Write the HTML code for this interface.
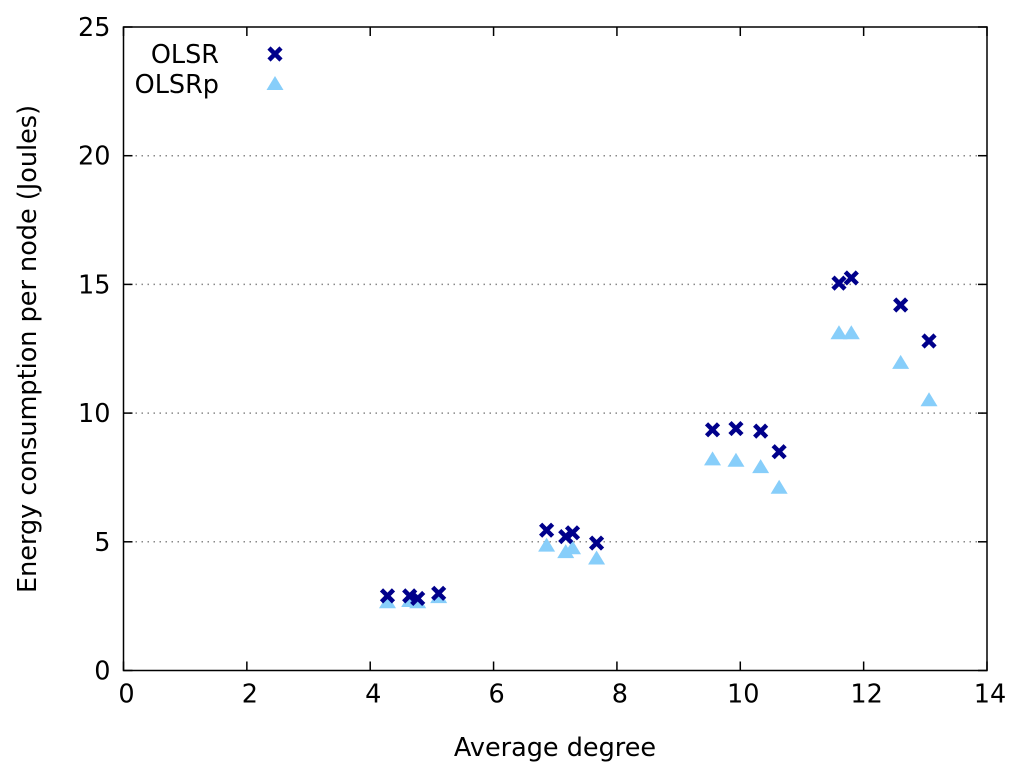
<!DOCTYPE html>
<html><head><meta charset="utf-8"><style>
html,body{margin:0;padding:0;background:#fff;}
svg{display:block;font-family:"DejaVu Sans","Liberation Sans",sans-serif;}
</style></head><body>
<svg id="chart" width="1024" height="778" viewBox="0 0 1024 778" xmlns="http://www.w3.org/2000/svg">
<g id="grid"></g><g id="axes"></g><g id="marks"></g><g id="legend"></g>
</svg>
<script>
const xTicks=[0,2,4,6,8,10,12,14];
const yTicks=[0,5,10,15,20,25];
const olsrX=[4.28,4.64,4.77,5.11,6.86,7.17,7.28,7.67,9.55,9.93,10.33,10.63,11.6,11.8,12.6,13.06];
const olsrY=[2.9,2.9,2.8,3.0,5.45,5.2,5.35,4.95,9.35,9.4,9.3,8.5,15.05,15.25,14.2,12.8];
const olsrpX=[4.28,4.64,4.77,5.11,6.86,7.17,7.28,7.67,9.55,9.93,10.33,10.63,11.6,11.8,12.6,13.06];
const olsrpY=[2.65,2.7,2.65,2.85,4.85,4.6,4.75,4.35,8.2,8.15,7.9,7.1,13.1,13.1,11.95,10.5];

const L=123.5,R=987,T=27,B=670.5;
const FS=25.5;
const xs=v=>L+(v-0)/14*(R-L);
const ys=v=>B-(v-0)/25*(B-T);
const NS="http://www.w3.org/2000/svg";
function mk(tag,attrs,parent){const e=document.createElementNS(NS,tag);for(const k in attrs)e.setAttribute(k,attrs[k]);parent.appendChild(e);return e;}
const grid=document.getElementById('grid'),axes=document.getElementById('axes'),marks=document.getElementById('marks'),legend=document.getElementById('legend');

yTicks.forEach(v=>{
  const y=ys(v);
  if(v>0&&v<25){const g=mk('line',{x1:L,x2:R,y1:y,y2:y,stroke:'#888','stroke-width':1.5,'stroke-dasharray':'1.5,4.5'},grid);
  
  }
  const t1=mk('line',{x1:L,x2:L+9,y1:y,y2:y,stroke:'#000','stroke-width':1.5},axes);
  
  
  const t2=mk('line',{x1:R-9,x2:R,y1:y,y2:y,stroke:'#000','stroke-width':1.5},axes);
  
  
  const lb=mk('text',{x:L-13,y:y+9,'text-anchor':'end','font-size':FS,fill:'#000'},axes);
  lb.textContent=v;
  
  
});
xTicks.forEach(v=>{
  const x=xs(v);
  const t1=mk('line',{x1:x,x2:x,y1:B,y2:B-9,stroke:'#000','stroke-width':1.5},axes);
  
  
  const t2=mk('line',{x1:x,x2:x,y1:T,y2:T+9,stroke:'#000','stroke-width':1.5},axes);
  
  
  const lb=mk('text',{x:x+3,y:B+32,'text-anchor':'middle','font-size':FS,fill:'#000'},axes);
  lb.textContent=v;
  
  
});
const frame=mk('rect',{x:L,y:T,width:R-L,height:B-T,fill:'none',stroke:'#000','stroke-width':1.5},axes);


const xt=mk('text',{x:555,y:756,'text-anchor':'middle','font-size':FS,fill:'#000'},axes);
xt.textContent='Average degree';


const yt=mk('text',{x:0,y:0,'text-anchor':'middle','font-size':FS,fill:'#000',transform:'translate(36,349) rotate(-90)'},axes);
yt.textContent='Energy consumption per node (Joules)';



function cross(cx,cy,parent){
  return mk('path',{d:`M${cx-6},${cy-6}L${cx+6},${cy+6}M${cx-6},${cy+6}L${cx+6},${cy-6}`,stroke:'#00008b','stroke-width':4.5,fill:'none'},parent);
}
function tri(cx,cy,parent){
  return mk('path',{d:`M${cx},${cy-8}L${cx+8.5},${cy+6}L${cx-8.5},${cy+6}Z`,fill:'#87cefa'},parent);
}
olsrpX.forEach((v,i)=>{
  const p=tri(xs(v),ys(olsrpY[i]),marks);
  
  
});
olsrX.forEach((v,i)=>{
  const p=cross(xs(v),ys(olsrY[i]),marks);
  
  
});
const l1=mk('text',{x:219,y:63,'text-anchor':'end','font-size':FS,fill:'#000'},legend);
l1.textContent='OLSR';


const l2=mk('text',{x:219,y:93,'text-anchor':'end','font-size':FS,fill:'#000'},legend);
l2.textContent='OLSRp';


const m1=cross(275,54,legend);


const m2=tri(275,84,legend);


</script>
</body></html>
